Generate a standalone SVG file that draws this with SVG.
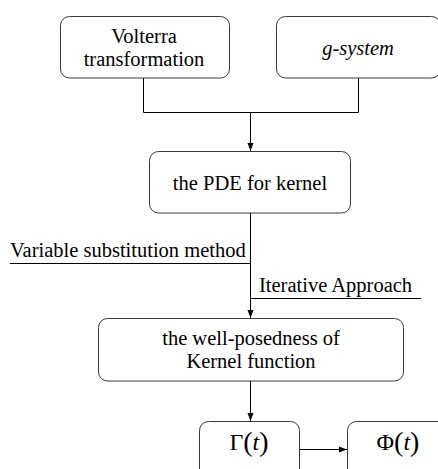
<svg xmlns="http://www.w3.org/2000/svg" width="438" height="469" viewBox="0 0 438 469">
<style>
.box{fill:#fff;stroke:#3a3a3a;stroke-width:1}
.ln{fill:none;stroke:#000;stroke-width:1}
.c{text-anchor:middle}
</style>
<defs>
<marker id="ah" viewBox="0 0 8 8" refX="8" refY="4" markerWidth="8" markerHeight="8" markerUnits="userSpaceOnUse" orient="auto">
<path d="M0,1 L8,4 L0,7 Z" fill="#000"/>
</marker>
</defs>
<rect width="438" height="469" fill="#fff"/>
<g id="connectors">
<path class="ln" d="M143.5,78 V112.5 H358.5 V78"/>
<path class="ln" d="M250.5,112.5 V151" marker-end="url(#ah)"/>
<path class="ln" d="M250.5,213 V318" marker-end="url(#ah)"/>
<path class="ln" d="M10,263.5 H250.5"/>
<path class="ln" d="M250.5,298.5 H421"/>
<path class="ln" d="M250.5,381 V421" marker-end="url(#ah)"/>
<path class="ln" d="M300,449.5 H347" marker-end="url(#ah)"/>
<text x="10" y="257" font-family="Liberation Serif" font-size="20.5">Variable substitution method</text>
<text x="259" y="292" font-family="Liberation Serif" font-size="20.5">Iterative Approach</text>
</g>
<g id="volterra">
<rect class="box" x="60.5" y="16.5" width="169" height="61.5" rx="9"/>
<text class="c" x="144" y="43" font-family="Liberation Serif" font-size="20.5">Volterra</text>
<text class="c" x="144" y="66" font-family="Liberation Serif" font-size="20.5">transformation</text>
</g>
<g id="gsystem">
<rect class="box" x="276.5" y="16.5" width="164" height="61.5" rx="9"/>
<text class="c" x="358" y="55" font-family="Liberation Serif" font-size="20.5" font-style="italic">g-system</text>
</g>
<g id="pde">
<rect class="box" x="149.5" y="151.5" width="201" height="61.5" rx="9"/>
<text class="c" x="250" y="190" font-family="Liberation Serif" font-size="20.5">the PDE for kernel</text>
</g>
<g id="wellposed">
<rect class="box" x="98.5" y="318.5" width="305" height="62.5" rx="9"/>
<text class="c" x="251" y="345" font-family="Liberation Serif" font-size="20.5">the well-posedness of</text>
<text class="c" x="251" y="368" font-family="Liberation Serif" font-size="20.5">Kernel function</text>
</g>
<g id="gamma">
<rect class="box" x="199.5" y="421.5" width="100" height="60" rx="9"/>
<text class="c" x="249" y="450" font-family="Liberation Serif" font-size="24">Γ<tspan font-size="28" dy="1">(</tspan><tspan font-style="italic" dy="-1">t</tspan><tspan font-size="28" dy="1">)</tspan></text>
</g>
<g id="phi">
<rect class="box" x="347.5" y="421.5" width="100" height="60" rx="9"/>
<text class="c" x="398" y="450" font-family="Liberation Serif" font-size="24">Φ<tspan font-size="28" dy="1">(</tspan><tspan font-style="italic" dy="-1">t</tspan><tspan font-size="28" dy="1">)</tspan></text>
</g>
</svg>
